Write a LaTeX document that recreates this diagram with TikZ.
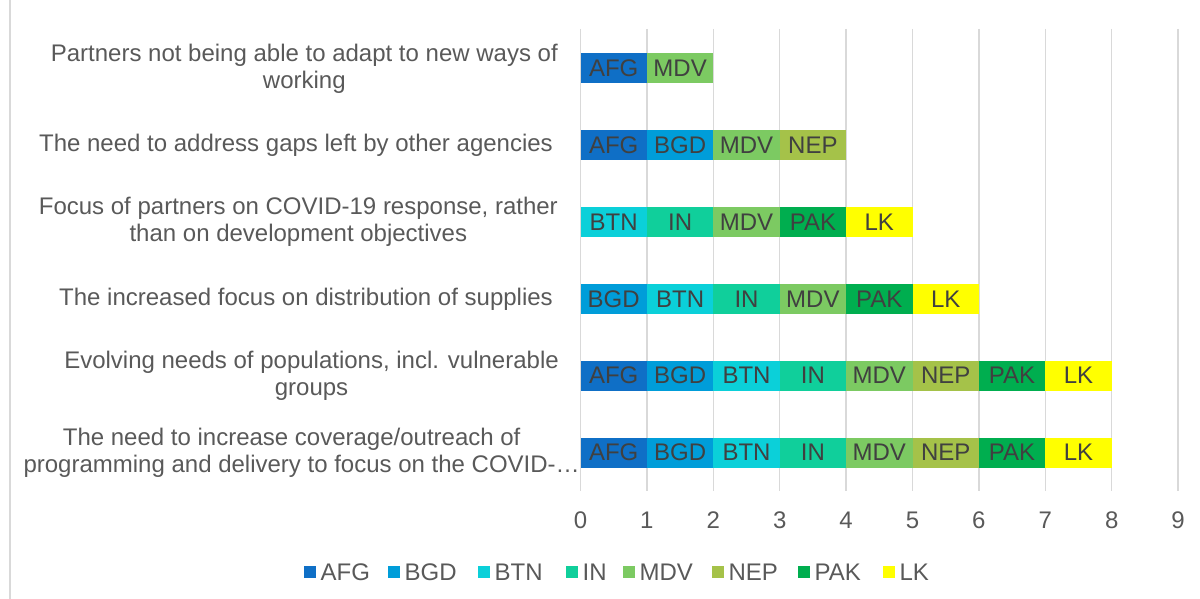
\documentclass[tikz,border=0pt]{standalone}
\usepackage{fontspec}
\setmainfont{Liberation Sans}
\usetikzlibrary{positioning}
\definecolor{gridgray}{HTML}{D9D9D9}
\definecolor{labgray}{HTML}{595959}
\definecolor{bartext}{HTML}{404040}
\definecolor{afg}{HTML}{0F6FC6}
\definecolor{bgd}{HTML}{009DD9}
\definecolor{btn}{HTML}{0BD0D9}
\definecolor{in}{HTML}{10CF9B}
\definecolor{mdv}{HTML}{7CCA62}
\definecolor{nep}{HTML}{A5C249}
\definecolor{pak}{HTML}{00AE4F}
\definecolor{lk}{HTML}{FFFF00}
\tikzstyle{seg}   = [anchor=west, minimum width=66.4pt, minimum height=30pt, inner sep=0pt, outer sep=0pt, text=bartext, font=\fontsize{24}{27}\selectfont]
\tikzstyle{cAFG}  = [fill=afg]
\tikzstyle{cBGD}  = [fill=bgd]
\tikzstyle{cBTN}  = [fill=btn]
\tikzstyle{cIN}   = [fill=in]
\tikzstyle{cMDV}  = [fill=mdv]
\tikzstyle{cNEP}  = [fill=nep]
\tikzstyle{cPAK}  = [fill=pak]
\tikzstyle{cLK}   = [fill=lk]
\tikzstyle{cat}   = [anchor=east, align=center, inner sep=0pt, text=labgray, font=\fontsize{24}{27}\selectfont]
\tikzstyle{tick}  = [inner sep=0pt, text=labgray, font=\fontsize{24}{27}\selectfont]
\tikzstyle{key}   = [anchor=west, minimum size=12pt, inner sep=0pt]
\tikzstyle{keytxt}= [inner sep=0pt, text=labgray, font=\fontsize{24}{27}\selectfont]

\begin{document}
\begin{tikzpicture}[x=1pt,y=-1pt]
  \useasboundingbox (0,0) rectangle (1200,599);
  \draw[gridgray, line width=1.3pt] (10,0) -- (10,599);
  % axis
  \foreach \k in {0,...,9} {
    \draw[gridgray, line width=1.5pt] (580.5+66.4*\k,29) -- (580.5+66.4*\k,491);
    \node[tick] (t\k) at (580.5+66.4*\k,520) {\k};
  }
  % categories
  \node[cat] (q1) at (558,68.5)  {Partners not being able to adapt to new ways of\\working};
  \node[cat] (q2) at (553,145.3) {The need to address gaps left by other agencies};
  \node[cat] (q3) at (558,222.1) {Focus of partners on COVID-19 response, rather\\than on development objectives};
  \node[cat] (q4) at (553,298.9) {The increased focus on distribution of supplies};
  \node[cat] (q5) at (559,375.7) {Evolving needs of populations, incl. vulnerable\\groups};
  \node[cat] (q6) at (580,452.5) {The need to increase coverage/outreach of\phantom{--.}\\programming and delivery to focus on the COVID-\ldots};
  % bars
  \foreach \c [count=\i from 0] in {AFG,MDV}
    \node[seg, c\c] (b1\c) at (580.5+66.4*\i,68.5) {\c};
  \foreach \c [count=\i from 0] in {AFG,BGD,MDV,NEP}
    \node[seg, c\c] (b2\c) at (580.5+66.4*\i,145.3) {\c};
  \foreach \c [count=\i from 0] in {BTN,IN,MDV,PAK,LK}
    \node[seg, c\c] (b3\c) at (580.5+66.4*\i,222.1) {\c};
  \foreach \c [count=\i from 0] in {BGD,BTN,IN,MDV,PAK,LK}
    \node[seg, c\c] (b4\c) at (580.5+66.4*\i,298.9) {\c};
  \foreach \c [count=\i from 0] in {AFG,BGD,BTN,IN,MDV,NEP,PAK,LK}
    \node[seg, c\c] (b5\c) at (580.5+66.4*\i,375.7) {\c};
  \foreach \c [count=\i from 0] in {AFG,BGD,BTN,IN,MDV,NEP,PAK,LK}
    \node[seg, c\c] (b6\c) at (580.5+66.4*\i,452.5) {\c};
  % legend
  \foreach \x/\c in {304/AFG,388/BGD,478/BTN,566/IN,623/MDV,712/NEP,798/PAK,883/LK} {
    \node[key, c\c] (k\c) at (\x,572) {};
    \node[keytxt, right=4pt of k\c] (l\c) {\c};
  }
\end{tikzpicture}
\end{document}
